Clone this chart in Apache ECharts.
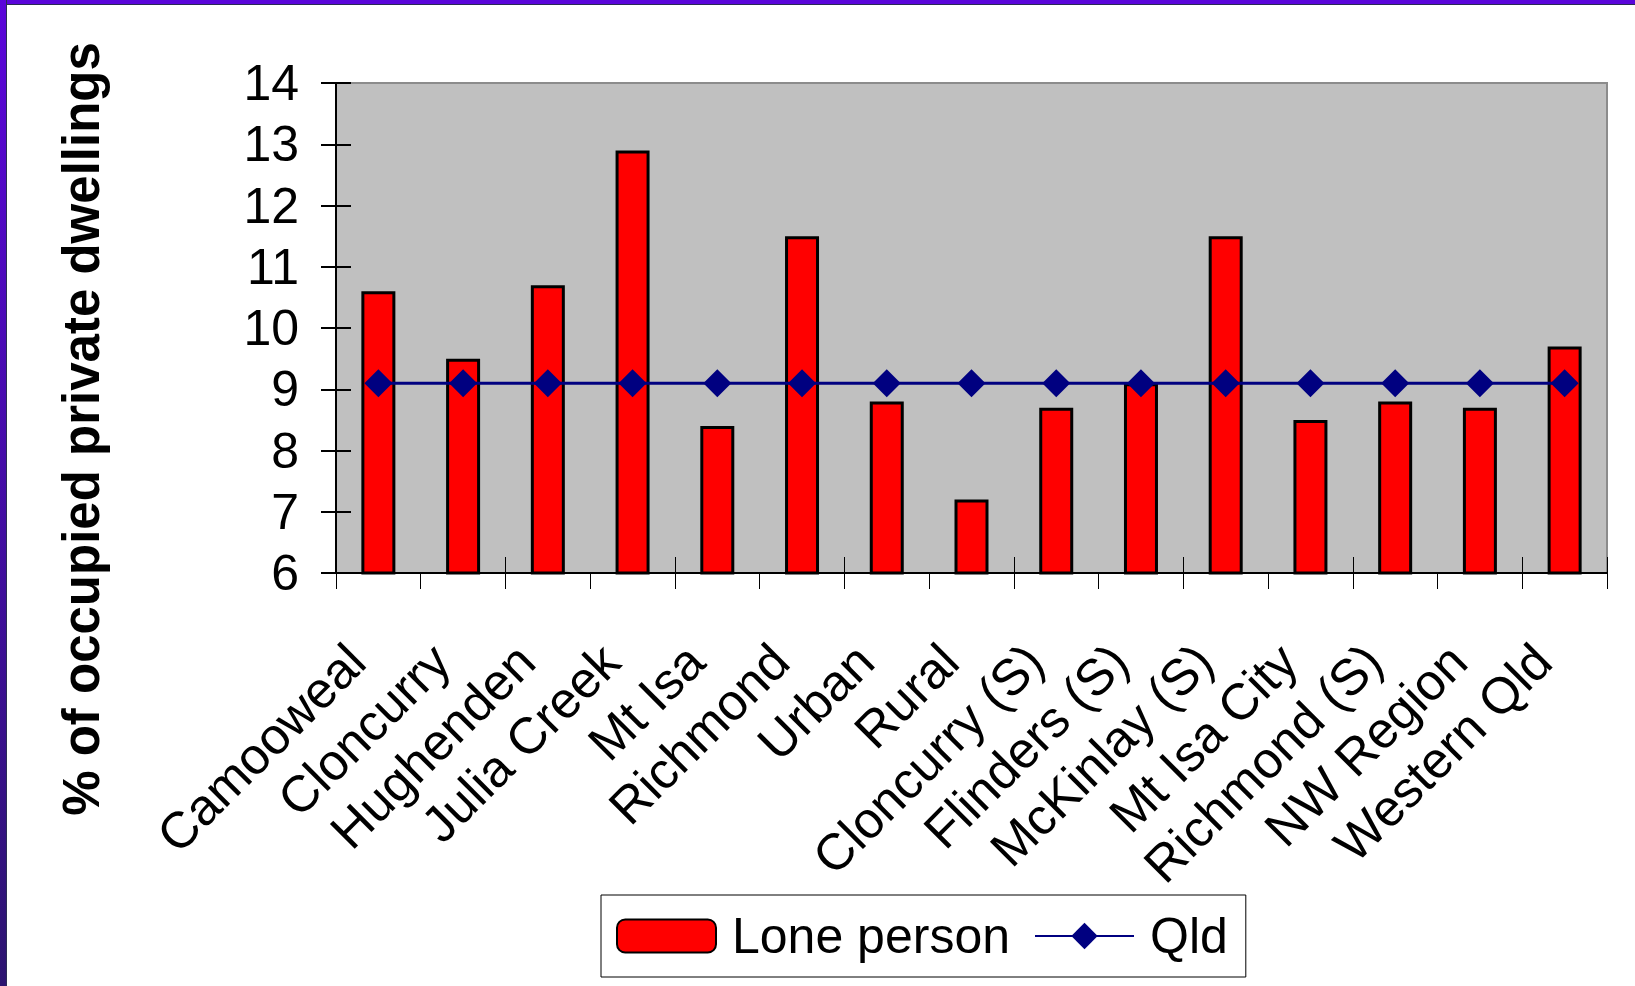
<!DOCTYPE html>
<html>
<head>
<meta charset="utf-8">
<script src="https://cdn.jsdelivr.net/npm/echarts@6/dist/echarts.min.js"></script>
<style>
  html, body { margin: 0; padding: 0; background: #ffffff; }
  #chart { position: absolute; left: 0; top: 0; width: 1635px; height: 986px; }
  .frame-top { position: absolute; left: 0; top: 0; width: 1635px; height: 4px; background: #5A05DA; border-bottom: 1px solid #2a2a55; pointer-events: none; }
  .frame-left { position: absolute; left: 0; top: 0; width: 6px; height: 986px; background: linear-gradient(to bottom, #5A05DA, #2C1470); border-right: 1px solid #2a2a55; pointer-events: none; }
</style>
</head>
<body>
<div id="chart"></div>
<div class="frame-top"></div>
<div class="frame-left"></div>
<script>
const categories = ['Camooweal', 'Cloncurry', 'Hughenden', 'Julia Creek', 'Mt Isa', 'Richmond', 'Urban', 'Rural',
  'Cloncurry (S)', 'Flinders (S)', 'McKinlay (S)', 'Mt Isa City', 'Richmond (S)', 'NW Region', 'Western Qld'];
const lonePerson = [10.6, 9.5, 10.7, 12.9, 8.4, 11.5, 8.8, 7.2, 8.7, 9.1, 11.5, 8.5, 8.8, 8.7, 9.7];
const qld = [9.1, 9.1, 9.1, 9.1, 9.1, 9.1, 9.1, 9.1, 9.1, 9.1, 9.1, 9.1, 9.1, 9.1, 9.1];
const yTicks = { min: 6, max: 14, interval: 1 };
const yTitle = '% of occupied private dwellings';
const seriesNames = ['Lone person', 'Qld'];

const FONT = '"Liberation Sans", Arial, sans-serif';
const chart = echarts.init(document.getElementById('chart'), null, { renderer: 'svg' });

chart.setOption({
  backgroundColor: '#ffffff',
  animation: false,
  textStyle: { fontFamily: FONT, color: '#000' },
  grid: {
    left: 336, top: 83, width: 1271, height: 490,
    show: true, backgroundColor: '#C0C0C0', borderColor: '#8C8C8C', borderWidth: 2
  },
  legend: {
    left: 601, top: 895,
    padding: [16, 18, 16, 15],
    borderColor: '#000', borderWidth: 1,
    itemWidth: 99, itemHeight: 33, itemGap: 24,
    textStyle: { fontFamily: FONT, fontSize: 50, color: '#000', padding: [0, 0, 0, 11] },
    data: seriesNames
  },
  graphic: [{
    type: 'text',
    x: 81, y: 429,
    rotation: Math.PI / 2,
    style: {
      text: yTitle,
      fontFamily: FONT, fontSize: 51, fontWeight: 'bold',
      fill: '#000', align: 'center', verticalAlign: 'middle'
    }
  }],
  xAxis: [{
    type: 'category',
    data: categories,
    boundaryGap: true,
    axisLine: { show: true, lineStyle: { color: '#000', width: 2 } },
    axisTick: { show: true, inside: false, length: 16, alignWithLabel: false, lineStyle: { color: '#000', width: 1 } },
    axisLabel: { interval: 0, rotate: 45, margin: 58, fontSize: 51, color: '#000', fontFamily: FONT, padding: [0, 31, 0, 0] },
    splitLine: { show: false }
  }, {
    type: 'category',
    data: categories,
    position: 'bottom',
    boundaryGap: true,
    axisLine: { show: false },
    axisTick: { show: true, inside: true, length: 16, lineStyle: { color: '#000', width: 1 } },
    axisLabel: { show: false },
    splitLine: { show: false }
  }],
  yAxis: [{
    type: 'value',
    min: yTicks.min, max: yTicks.max, interval: yTicks.interval,
    axisLine: { show: true, lineStyle: { color: '#000', width: 2 } },
    axisTick: { show: true, inside: false, length: 15, lineStyle: { color: '#000', width: 2 } },
    axisLabel: { margin: 37, fontSize: 50, color: '#000', fontFamily: FONT },
    splitLine: { show: false }
  }, {
    type: 'value',
    position: 'left',
    min: yTicks.min, max: yTicks.max, interval: yTicks.interval,
    axisLine: { show: false },
    axisTick: { show: true, inside: true, length: 15, lineStyle: { color: '#000', width: 2 } },
    axisLabel: { show: false },
    splitLine: { show: false }
  }],
  series: [{
    name: seriesNames[0],
    type: 'bar',
    xAxisIndex: 0, yAxisIndex: 0,
    data: lonePerson,
    barWidth: 34,
    itemStyle: { color: '#FF0000', borderColor: '#000', borderWidth: 3 },
    z: 2
  }, {
    name: seriesNames[1],
    type: 'line',
    xAxisIndex: 0, yAxisIndex: 0,
    data: qld,
    symbol: 'diamond',
    symbolSize: 28,
    itemStyle: { color: '#000080' },
    lineStyle: { color: '#000080', width: 3 },
    z: 3
  }]
});
</script>
</body>
</html>
